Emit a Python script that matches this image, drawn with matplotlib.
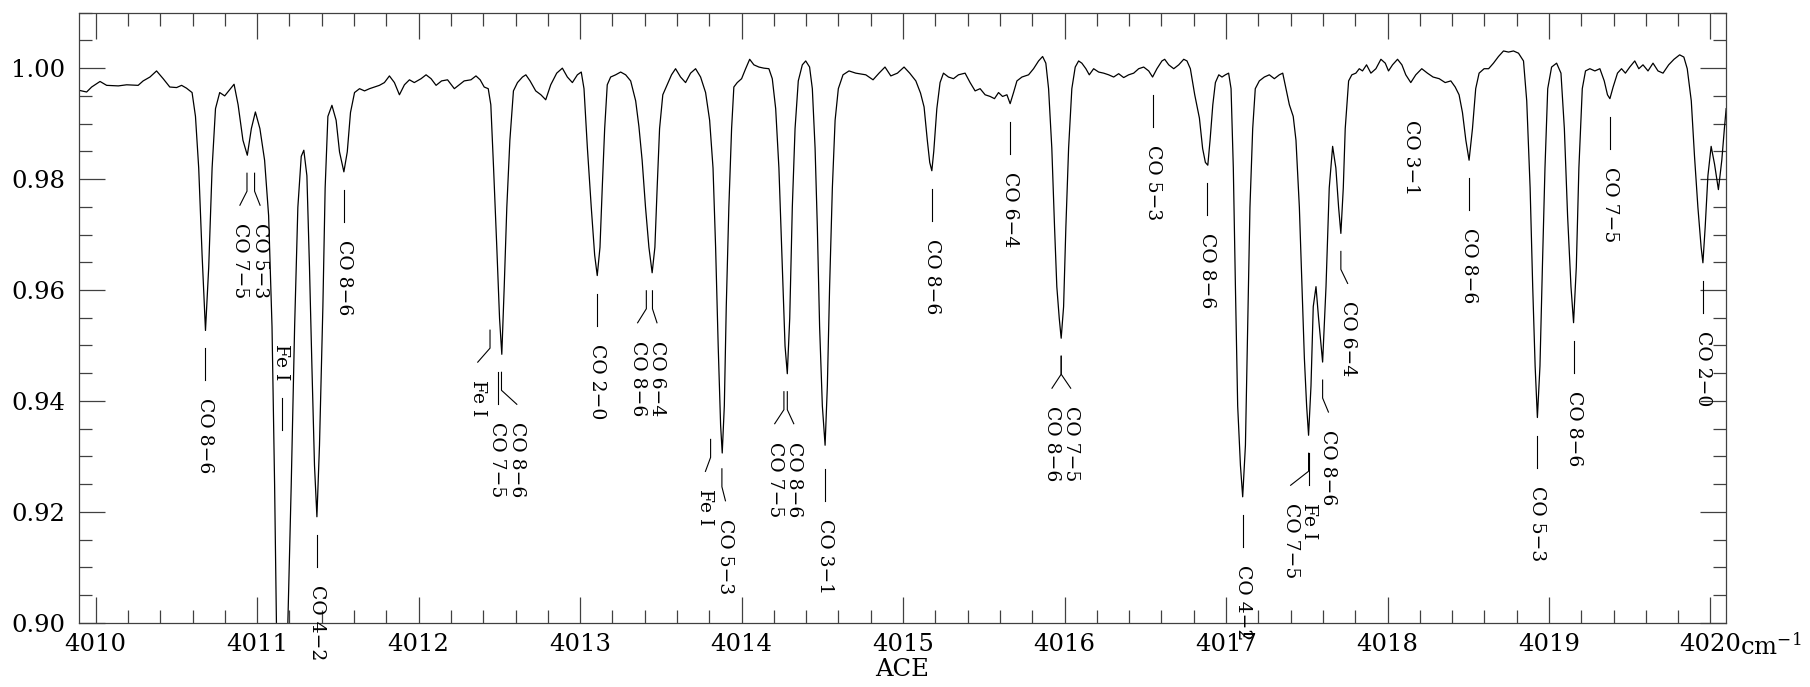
import numpy as np
import matplotlib.pyplot as plt
from matplotlib.ticker import MultipleLocator, FormatStrFormatter

plt.rcParams['font.family'] = 'DejaVu Serif'
plt.rcParams['mathtext.fontset'] = 'dejavuserif'

# spectrum (wavenumber in cm-1, relative intensity)
wavenumber = [
    4009.898, 4009.913, 4009.944, 4009.975, 4010.027, 4010.068, 4010.140, 4010.192,
    4010.263, 4010.294, 4010.336, 4010.377, 4010.418, 4010.459, 4010.501, 4010.532,
    4010.562, 4010.597, 4010.618, 4010.638, 4010.659, 4010.680, 4010.700, 4010.721,
    4010.742, 4010.768, 4010.799, 4010.824, 4010.857, 4010.882, 4010.912, 4010.939,
    4010.964, 4010.989, 4011.017, 4011.046, 4011.071, 4011.092, 4011.108, 4011.119,
    4011.153, 4011.190, 4011.211, 4011.232, 4011.252, 4011.273, 4011.289, 4011.308,
    4011.324, 4011.339, 4011.355, 4011.370, 4011.386, 4011.407, 4011.421, 4011.438,
    4011.463, 4011.489, 4011.510, 4011.537, 4011.558, 4011.578, 4011.603, 4011.634,
    4011.665, 4011.696, 4011.726, 4011.757, 4011.788, 4011.819, 4011.850, 4011.881,
    4011.912, 4011.943, 4011.973, 4012.015, 4012.046, 4012.077, 4012.108, 4012.142,
    4012.179, 4012.221, 4012.252, 4012.282, 4012.324, 4012.355, 4012.381, 4012.406,
    4012.431, 4012.447, 4012.464, 4012.484, 4012.501, 4012.515, 4012.530, 4012.546,
    4012.565, 4012.587, 4012.612, 4012.643, 4012.664, 4012.690, 4012.725, 4012.757,
    4012.787, 4012.818, 4012.855, 4012.890, 4012.921, 4012.952, 4012.983, 4013.007,
    4013.024, 4013.045, 4013.069, 4013.090, 4013.106, 4013.123, 4013.137, 4013.152,
    4013.168, 4013.189, 4013.220, 4013.251, 4013.282, 4013.313, 4013.344, 4013.364,
    4013.384, 4013.405, 4013.426, 4013.446, 4013.463, 4013.477, 4013.492, 4013.512,
    4013.539, 4013.566, 4013.591, 4013.622, 4013.653, 4013.684, 4013.715, 4013.746,
    4013.777, 4013.802, 4013.823, 4013.839, 4013.855, 4013.870, 4013.880, 4013.893,
    4013.905, 4013.921, 4013.938, 4013.952, 4013.973, 4014.000, 4014.025, 4014.050,
    4014.076, 4014.107, 4014.138, 4014.169, 4014.190, 4014.211, 4014.231, 4014.252,
    4014.269, 4014.283, 4014.298, 4014.314, 4014.331, 4014.351, 4014.376, 4014.397,
    4014.421, 4014.438, 4014.455, 4014.469, 4014.483, 4014.500, 4014.517, 4014.531,
    4014.545, 4014.562, 4014.579, 4014.599, 4014.628, 4014.665, 4014.707, 4014.769,
    4014.814, 4014.851, 4014.888, 4014.924, 4014.965, 4015.006, 4015.041, 4015.079,
    4015.108, 4015.130, 4015.150, 4015.165, 4015.178, 4015.190, 4015.209, 4015.229,
    4015.250, 4015.281, 4015.312, 4015.343, 4015.384, 4015.415, 4015.446, 4015.477,
    4015.508, 4015.539, 4015.566, 4015.591, 4015.616, 4015.643, 4015.663, 4015.684,
    4015.705, 4015.736, 4015.777, 4015.808, 4015.839, 4015.864, 4015.884, 4015.901,
    4015.921, 4015.938, 4015.952, 4015.967, 4015.979, 4015.994, 4016.008, 4016.025,
    4016.045, 4016.066, 4016.087, 4016.107, 4016.132, 4016.153, 4016.180, 4016.211,
    4016.242, 4016.273, 4016.304, 4016.335, 4016.366, 4016.397, 4016.428, 4016.459,
    4016.490, 4016.521, 4016.545, 4016.572, 4016.603, 4016.620, 4016.645, 4016.676,
    4016.707, 4016.738, 4016.758, 4016.779, 4016.806, 4016.835, 4016.855, 4016.872,
    4016.887, 4016.901, 4016.918, 4016.934, 4016.955, 4016.975, 4016.996, 4017.016,
    4017.031, 4017.045, 4017.058, 4017.072, 4017.089, 4017.103, 4017.120, 4017.134,
    4017.148, 4017.165, 4017.181, 4017.206, 4017.237, 4017.268, 4017.299, 4017.330,
    4017.351, 4017.371, 4017.392, 4017.416, 4017.433, 4017.454, 4017.470, 4017.485,
    4017.499, 4017.511, 4017.526, 4017.540, 4017.557, 4017.573, 4017.598, 4017.619,
    4017.639, 4017.660, 4017.680, 4017.697, 4017.711, 4017.726, 4017.738, 4017.759,
    4017.779, 4017.804, 4017.825, 4017.845, 4017.870, 4017.897, 4017.928, 4017.959,
    4017.986, 4018.006, 4018.031, 4018.062, 4018.089, 4018.113, 4018.144, 4018.175,
    4018.212, 4018.247, 4018.282, 4018.320, 4018.357, 4018.392, 4018.419, 4018.443,
    4018.464, 4018.485, 4018.505, 4018.526, 4018.546, 4018.567, 4018.598, 4018.626,
    4018.656, 4018.687, 4018.718, 4018.749, 4018.780, 4018.811, 4018.842, 4018.862,
    4018.883, 4018.899, 4018.914, 4018.928, 4018.944, 4018.959, 4018.975, 4018.992,
    4019.016, 4019.047, 4019.074, 4019.095, 4019.115, 4019.136, 4019.152, 4019.169,
    4019.185, 4019.206, 4019.226, 4019.253, 4019.284, 4019.315, 4019.342, 4019.362,
    4019.377, 4019.397, 4019.424, 4019.449, 4019.473, 4019.500, 4019.531, 4019.556,
    4019.582, 4019.613, 4019.644, 4019.675, 4019.706, 4019.741, 4019.774, 4019.809,
    4019.835, 4019.856, 4019.881, 4019.901, 4019.922, 4019.942, 4019.953, 4019.967,
    4019.984, 4020.004, 4020.025, 4020.049, 4020.070, 4020.086, 4020.097,
]
intensity = [
    0.9960, 0.9959, 0.9957, 0.9966, 0.9976, 0.9969, 0.9968, 0.9970,
    0.9969, 0.9977, 0.9984, 0.9995, 0.9981, 0.9966, 0.9965, 0.9969,
    0.9964, 0.9956, 0.9913, 0.9820, 0.9663, 0.9527, 0.9641, 0.9820,
    0.9927, 0.9956, 0.9950, 0.9959, 0.9971, 0.9934, 0.9870, 0.9843,
    0.9891, 0.9921, 0.9891, 0.9834, 0.9734, 0.9534, 0.9249, 0.8999,
    0.8300, 0.8999, 0.9249, 0.9534, 0.9749, 0.9841, 0.9852, 0.9806,
    0.9641, 0.9463, 0.9284, 0.9191, 0.9320, 0.9570, 0.9784, 0.9913,
    0.9933, 0.9906, 0.9849, 0.9813, 0.9849, 0.9920, 0.9956, 0.9963,
    0.9959, 0.9963, 0.9966, 0.9969, 0.9974, 0.9986, 0.9974, 0.9952,
    0.9970, 0.9979, 0.9974, 0.9981, 0.9988, 0.9981, 0.9969, 0.9977,
    0.9979, 0.9963, 0.9970, 0.9977, 0.9979, 0.9986, 0.9979, 0.9966,
    0.9963, 0.9934, 0.9820, 0.9677, 0.9549, 0.9484, 0.9606, 0.9749,
    0.9870, 0.9959, 0.9974, 0.9984, 0.9988, 0.9977, 0.9959, 0.9952,
    0.9943, 0.9970, 0.9991, 1.0000, 0.9984, 0.9974, 0.9988, 0.9993,
    0.9963, 0.9856, 0.9749, 0.9663, 0.9626, 0.9677, 0.9784, 0.9891,
    0.9970, 0.9984, 0.9988, 0.9993, 0.9988, 0.9977, 0.9941, 0.9895,
    0.9834, 0.9749, 0.9677, 0.9631, 0.9677, 0.9784, 0.9891, 0.9952,
    0.9970, 0.9988, 0.9999, 0.9984, 0.9974, 0.9991, 0.9999, 0.9984,
    0.9956, 0.9906, 0.9820, 0.9677, 0.9499, 0.9356, 0.9306, 0.9391,
    0.9570, 0.9749, 0.9891, 0.9966, 0.9974, 0.9981, 0.9999, 1.0016,
    1.0006, 1.0002, 1.0000, 0.9999, 0.9981, 0.9927, 0.9820, 0.9641,
    0.9499, 0.9449, 0.9549, 0.9749, 0.9891, 0.9977, 1.0006, 1.0013,
    1.0002, 0.9963, 0.9856, 0.9713, 0.9534, 0.9391, 0.9320, 0.9427,
    0.9606, 0.9784, 0.9906, 0.9963, 0.9988, 0.9995, 0.9991, 0.9988,
    0.9979, 0.9991, 1.0002, 0.9986, 0.9991, 1.0002, 0.9991, 0.9977,
    0.9955, 0.9930, 0.9870, 0.9830, 0.9815, 0.9850, 0.9927, 0.9974,
    0.9991, 0.9984, 0.9981, 0.9988, 0.9991, 0.9974, 0.9959, 0.9963,
    0.9952, 0.9949, 0.9945, 0.9956, 0.9949, 0.9952, 0.9936, 0.9956,
    0.9977, 0.9984, 0.9988, 0.9999, 1.0013, 1.0021, 1.0009, 0.9963,
    0.9856, 0.9713, 0.9606, 0.9549, 0.9513, 0.9570, 0.9713, 0.9856,
    0.9963, 1.0002, 1.0013, 1.0009, 0.9999, 0.9988, 0.9999, 0.9993,
    0.9991, 0.9988, 0.9984, 0.9990, 0.9983, 0.9988, 0.9991, 0.9999,
    1.0002, 0.9995, 0.9984, 0.9999, 1.0013, 1.0016, 1.0006, 0.9999,
    1.0006, 1.0016, 1.0013, 0.9999, 0.9952, 0.9910, 0.9855, 0.9830,
    0.9825, 0.9870, 0.9934, 0.9974, 0.9988, 0.9984, 0.9988, 0.9991,
    0.9963, 0.9820, 0.9606, 0.9391, 0.9284, 0.9227, 0.9320, 0.9534,
    0.9749, 0.9891, 0.9963, 0.9977, 0.9984, 0.9988, 0.9981, 0.9988,
    0.9991, 0.9963, 0.9934, 0.9913, 0.9870, 0.9749, 0.9606, 0.9477,
    0.9391, 0.9338, 0.9427, 0.9570, 0.9606, 0.9549, 0.9470, 0.9606,
    0.9784, 0.9859, 0.9820, 0.9749, 0.9702, 0.9784, 0.9891, 0.9977,
    0.9988, 0.9991, 0.9999, 0.9995, 1.0006, 0.9991, 0.9999, 1.0016,
    1.0009, 0.9995, 1.0006, 1.0016, 1.0006, 0.9988, 0.9974, 0.9988,
    0.9999, 0.9991, 0.9984, 0.9981, 0.9974, 0.9977, 0.9966, 0.9952,
    0.9920, 0.9870, 0.9834, 0.9891, 0.9963, 0.9991, 0.9999, 0.9999,
    1.0009, 1.0021, 1.0031, 1.0029, 1.0031, 1.0027, 1.0013, 0.9941,
    0.9784, 0.9606, 0.9463, 0.9370, 0.9463, 0.9641, 0.9820, 0.9963,
    1.0002, 1.0009, 0.9991, 0.9891, 0.9734, 0.9606, 0.9541, 0.9641,
    0.9820, 0.9963, 0.9995, 0.9999, 0.9995, 0.9999, 0.9977, 0.9952,
    0.9945, 0.9966, 0.9991, 0.9999, 0.9991, 1.0002, 1.0013, 0.9999,
    1.0006, 0.9995, 1.0009, 0.9995, 0.9991, 1.0006, 1.0016, 1.0024,
    1.0020, 0.9999, 0.9941, 0.9841, 0.9749, 0.9677, 0.9649, 0.9713,
    0.9806, 0.9859, 0.9827, 0.9781, 0.9834, 0.9891, 0.9927,
]

# line identifications: marked wavenumbers, names, where the names sit,
# the depth the marker hangs from, and marker style
groups = [
    ([4010.680], ['CO 8−6'], [4010.680], 0.9527, 'down'),
    ([4010.984, 4010.937], ['CO 5−3', 'CO 7−5'], [4011.018, 4010.893], 0.9843, 'down'),
    ([4011.152], ['Fe I'], [4011.148], 0.9315, 'up'),
    ([4011.370], ['CO 4−2'], [4011.370], 0.9191, 'down'),
    ([4011.537], ['CO 8−6'], [4011.537], 0.9813, 'down'),
    ([4012.442], ['Fe I'], [4012.366], 0.9560, 'down'),
    ([4012.513, 4012.494], ['CO 8−6', 'CO 7−5'], [4012.608, 4012.486], 0.9484, 'down'),
    ([4013.106], ['CO 2−0'], [4013.106], 0.9626, 'down'),
    ([4013.448, 4013.410], ['CO 6−4', 'CO 8−6'], [4013.476, 4013.356], 0.9631, 'down'),
    ([4013.808], ['Fe I'], [4013.776], 0.9363, 'down'),
    ([4013.878], ['CO 5−3'], [4013.900], 0.9310, 'down'),
    ([4014.283, 4014.262], ['CO 8−6', 'CO 7−5'], [4014.323, 4014.205], 0.9449, 'down'),
    ([4014.517], ['CO 3−1'], [4014.517], 0.9310, 'down'),
    ([4015.178], ['CO 8−6'], [4015.178], 0.9815, 'down'),
    ([4015.663], ['CO 6−4'], [4015.663], 0.9936, 'down'),
    ([4015.979, 4015.979], ['CO 7−5', 'CO 8−6'], [4016.038, 4015.922], 0.9513, 'down'),
    ([4016.545], ['CO 5−3'], [4016.545], 0.9984, 'down'),
    ([4016.885], ['CO 8−6'], [4016.885], 0.9825, 'down'),
    ([4017.103], ['CO 4−2'], [4017.103], 0.9227, 'down'),
    ([4017.511, 4017.511], ['Fe I', 'CO 7−5'], [4017.513, 4017.400], 0.9338, 'down'),
    ([4017.598], ['CO 8−6'], [4017.634], 0.9470, 'down'),
    ([4017.711], ['CO 6−4'], [4017.753], 0.9702, 'down'),
    ([4018.144], ['CO 3−1'], [4018.144], 1.0029, 'text'),
    ([4018.505], ['CO 8−6'], [4018.505], 0.9834, 'down'),
    ([4018.928], ['CO 5−3'], [4018.928], 0.9370, 'down'),
    ([4019.152], ['CO 8−6'], [4019.152], 0.9541, 'down'),
    ([4019.377], ['CO 7−5'], [4019.377], 0.9945, 'down'),
    ([4019.953], ['CO 2−0'], [4019.953], 0.9649, 'down'),
]

xlim = (4009.898, 4020.096)
ylim = (0.90, 1.01)
frame = '#404040'
lab_fs = 13.5

fig = plt.figure(figsize=(18.1, 6.87), dpi=100)
ax = fig.add_axes([0.04376, 0.0936, 0.90983, 0.88791])

ax.plot(wavenumber, intensity, color='black', lw=0.9)
ax.set_xlim(*xlim)
ax.set_ylim(*ylim)

# pixels per data unit, to lay out the markers in pixels
W, H = fig.get_size_inches() * fig.dpi
pos = ax.get_position()
ppx = pos.width * W / (xlim[1] - xlim[0])
ppy = pos.height * H / (ylim[1] - ylim[0])

kw = dict(color='black', lw=0.8, clip_on=False)
for comps, names, tx, ref, kind in groups:
    for c, name, t in zip(comps, names, tx):
        if kind == 'down':
            if abs(t - c) * ppx < 1.5:
                ax.plot([c, c], [ref - 18 / ppy, ref - 50 / ppy], **kw)
            else:
                ax.plot([c, c, t], [ref - 18 / ppy, ref - 36 / ppy, ref - 50 / ppy], **kw)
            ax.text(t, ref - 68 / ppy, name, rotation=-90, ha='center', va='top', fontsize=lab_fs)
        elif kind == 'up':
            ax.plot([c, c], [ref + 18 / ppy, ref + 50 / ppy], **kw)
            ax.text(t, ref + 68 / ppy, name, rotation=-90, ha='center', va='bottom', fontsize=lab_fs)
        else:
            ax.text(t, ref - 68 / ppy, name, rotation=-90, ha='center', va='top', fontsize=lab_fs)

ax.xaxis.set_major_locator(MultipleLocator(1))
ax.xaxis.set_minor_locator(MultipleLocator(0.2))
ax.yaxis.set_major_locator(MultipleLocator(0.02))
ax.yaxis.set_minor_locator(MultipleLocator(0.005))
ax.yaxis.set_major_formatter(FormatStrFormatter('%.2f'))
ax.xaxis.set_major_formatter(FormatStrFormatter('%d'))

ax.tick_params(which='both', direction='in', top=True, right=True, color=frame, width=0.9)
ax.tick_params(which='major', length=18.7)
ax.tick_params(which='minor', length=9.4)
ax.tick_params(axis='x', which='major', labelsize=17.5, pad=7.5)
ax.tick_params(axis='y', which='major', labelsize=17.5, pad=10)
for s in ax.spines.values():
    s.set_color(frame)
    s.set_linewidth(0.9)

ax.annotate('cm$^{-1}$', xy=(4020, 0), xycoords=('data', 'axes fraction'),
            xytext=(21, -7.5), textcoords='offset points', ha='left', va='top', fontsize=17.5)
ax.set_xlabel('ACE', fontsize=17.5, labelpad=1)

fig.savefig('out.png', dpi=100)
